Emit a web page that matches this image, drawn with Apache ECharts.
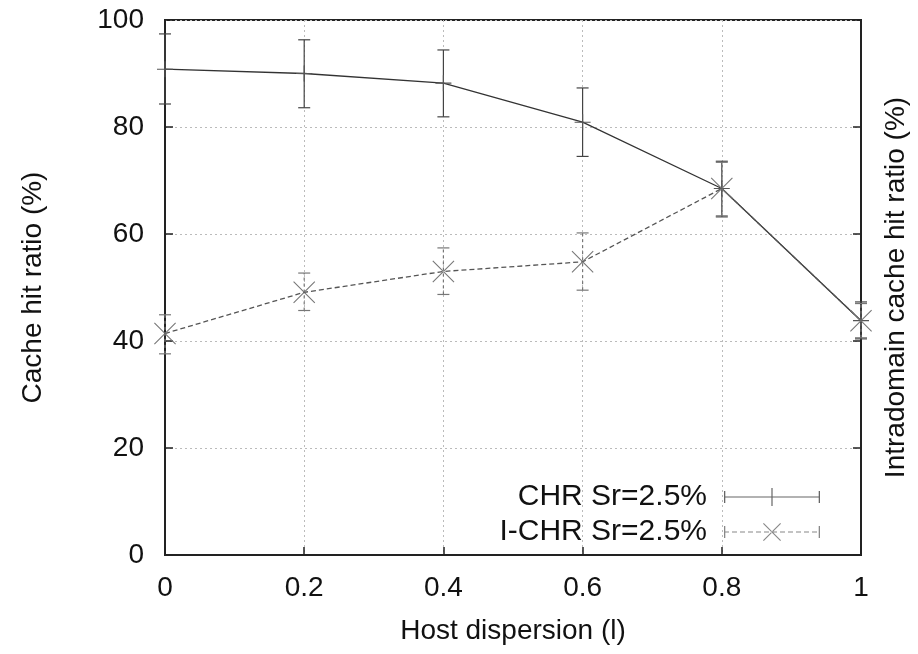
<!DOCTYPE html>
<html>
<head>
<meta charset="utf-8">
<script src="https://cdn.jsdelivr.net/npm/echarts@6/dist/echarts.min.js"></script>
<style>
  html, body { margin: 0; padding: 0; background: #fff; }
  #chart { width: 918px; height: 654px; }
</style>
</head>
<body>
<div id="chart"></div>
<script>
// host dispersion values on the x axis
const dispersion = [0, 0.2, 0.4, 0.6, 0.8, 1];

// CHR Sr=2.5% (mean, low, high)
const chrMean = [90.8, 90.0, 88.2, 80.9, 68.5, 43.8];
const chrLow  = [84.3, 83.6, 81.9, 74.5, 63.2, 40.4];
const chrHigh = [97.4, 96.3, 94.4, 87.3, 73.6, 47.3];

// I-CHR Sr=2.5% (mean, low, high)
const ichrMean = [41.4, 49.1, 53.0, 54.8, 68.5, 43.8];
const ichrLow  = [37.6, 45.7, 48.7, 49.5, 63.4, 40.6];
const ichrHigh = [44.9, 52.7, 57.4, 60.2, 73.4, 47.0];

const yTicks = [0, 20, 40, 60, 80, 100];
const legendNames = ['CHR Sr=2.5%', 'I-CHR Sr=2.5%'];

const font = 'Liberation Sans, Arial, sans-serif';
const plusPath = 'path://M-1,-0.07H1V0.07H-1Z M-0.07,-1H0.07V1H-0.07Z';
const crossPath = 'path://M-1,-0.93L-0.93,-1L1,0.93L0.93,1Z M1,-0.93L0.93,-1L-1,0.93L-0.93,1Z';

// legend samples: line with end caps and the point marker (96 x 18 box)
function dashes() {
  let p = '';
  for (let x = 0; x < 96; x += 8) {
    p += 'M' + x + ',8.4H' + Math.min(x + 5, 96) + 'V9.6H' + x + 'Z';
  }
  return p;
}
const capsPath = 'M0,3H1.3V15H0Z M94.7,3H96V15H94.7Z';
const legendChr = 'path://M0,8.4H96V9.6H0Z ' + capsPath + ' M47.4,0H48.6V18H47.4Z';
const legendIchr = 'path://' + dashes() + ' ' + capsPath +
  ' M39,0.8L39.8,0L57,17.2L56.2,18Z M57,0.8L56.2,0L39,17.2L39.8,18Z';

function pairs(xs, ys) {
  return xs.map((x, i) => [x, ys[i]]);
}
function barData(xs, lo, hi) {
  return xs.map((x, i) => [x, lo[i], hi[i]]);
}

// vertical error bar with small caps
function errorBar(color, dashed) {
  return function (params, api) {
    const x = api.value(0);
    const lo = api.coord([x, api.value(1)]);
    const hi = api.coord([x, api.value(2)]);
    const cap = 6;
    const style = { stroke: color, lineWidth: 1.2, lineDash: dashed ? [3, 3] : null };
    return {
      type: 'group',
      children: [
        { type: 'line', shape: { x1: lo[0], y1: lo[1], x2: hi[0], y2: hi[1] }, style: style },
        { type: 'line', shape: { x1: lo[0] - cap, y1: lo[1], x2: lo[0] + cap, y2: lo[1] }, style: { stroke: color, lineWidth: 1.2 } },
        { type: 'line', shape: { x1: hi[0] - cap, y1: hi[1], x2: hi[0] + cap, y2: hi[1] }, style: { stroke: color, lineWidth: 1.2 } }
      ]
    };
  };
}

const chart = echarts.init(document.getElementById('chart'));

const option = {
  animation: false,
  backgroundColor: '#fff',
  textStyle: { fontFamily: font },
  grid: { left: 165, right: 56, top: 20, bottom: 99, show: true, borderColor: '#222', borderWidth: 2 },
  legend: {
    right: 93,
    bottom: 102,
    orient: 'vertical',
    align: 'right',
    itemWidth: 96,
    itemHeight: 18,
    itemGap: 5,
    textStyle: { fontSize: 30, color: '#111', fontFamily: font, padding: [0, 12, 0, 0] },
    data: [
      { name: legendNames[0], icon: legendChr, itemStyle: { color: '#666' } },
      { name: legendNames[1], icon: legendIchr, itemStyle: { color: '#888' } }
    ]
  },
  xAxis: {
    type: 'value',
    min: 0,
    max: 1,
    interval: 0.2,
    name: 'Host dispersion (l)',
    nameLocation: 'middle',
    nameGap: 62,
    nameTextStyle: { fontSize: 28, color: '#111', fontFamily: font },
    axisLine: { show: true, lineStyle: { color: '#222', width: 2 } },
    axisTick: { show: true, inside: true, length: 8, lineStyle: { color: '#222', width: 1.5 } },
    axisLabel: { fontSize: 28, color: '#111', margin: 19, fontFamily: font },
    splitLine: { show: true, lineStyle: { color: '#bbb', type: [2, 3], width: 1 } }
  },
  yAxis: [
    {
      type: 'value',
      min: 0,
      max: 100,
      interval: 20,
      name: 'Cache hit ratio (%)',
      nameLocation: 'middle',
      nameGap: 118,
      nameRotate: 90,
      nameTextStyle: { fontSize: 28, color: '#111', fontFamily: font },
      axisLine: { show: true, lineStyle: { color: '#222', width: 2 } },
      axisTick: { show: true, inside: true, length: 8, lineStyle: { color: '#222', width: 1.5 } },
      axisLabel: { fontSize: 28, color: '#111', margin: 21, fontFamily: font,
        formatter: v => yTicks.includes(v) ? String(v) : '' },
      splitLine: { show: true, lineStyle: { color: '#bbb', type: [2, 3], width: 1 } }
    },
    {
      type: 'value',
      position: 'right',
      min: 0,
      max: 100,
      interval: 20,
      name: 'Intradomain cache hit ratio (%)',
      nameLocation: 'middle',
      nameGap: 21,
      nameRotate: 90,
      nameTextStyle: { fontSize: 28, color: '#111', fontFamily: font },
      axisLine: { show: true, lineStyle: { color: '#222', width: 2 } },
      axisTick: { show: true, inside: true, length: 8, lineStyle: { color: '#222', width: 1.5 } },
      axisLabel: { show: false },
      splitLine: { show: false }
    }
  ],
  series: [
    {
      name: legendNames[0],
      type: 'line',
      data: pairs(dispersion, chrMean),
      symbol: plusPath,
      symbolSize: 16,
      itemStyle: { color: '#555' },
      lineStyle: { color: '#333', width: 1.3 },
      z: 3
    },
    {
      name: legendNames[0],
      type: 'custom',
      data: barData(dispersion, chrLow, chrHigh),
      renderItem: errorBar('#444', false),
      encode: { x: 0, y: [1, 2] },
      z: 2
    },
    {
      name: legendNames[1],
      type: 'line',
      yAxisIndex: 1,
      data: pairs(dispersion, ichrMean),
      symbol: crossPath,
      symbolSize: 22,
      itemStyle: { color: '#777' },
      lineStyle: { color: '#555', width: 1.3, type: [5, 3] },
      z: 3
    },
    {
      name: legendNames[1],
      type: 'custom',
      yAxisIndex: 1,
      data: barData(dispersion, ichrLow, ichrHigh),
      renderItem: errorBar('#777', true),
      encode: { x: 0, y: [1, 2] },
      z: 2
    }
  ]
};

chart.setOption(option);
</script>
</body>
</html>
